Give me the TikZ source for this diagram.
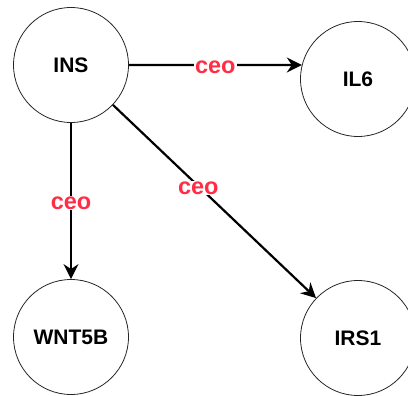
\documentclass[tikz,border=0pt]{standalone}
\usepackage{fontspec}
\setmainfont{Liberation Sans}
\usetikzlibrary{arrows.meta}
\definecolor{labelred}{RGB}{255,45,70}
\begin{document}
\begin{tikzpicture}[x=1pt,y=-1pt,
  gene/.style={circle,draw=black!85,line width=0.8pt,minimum size=115pt,inner sep=0pt,
    font=\fontsize{21}{24}\selectfont\bfseries},
  rel/.style={line width=2.2pt,-{Stealth[length=15pt,width=15pt,inset=5pt]}},
  lab/.style={fill=white,inner sep=1pt,yshift=-2pt,text=labelred,font=\fontsize{23.5}{26}\selectfont\bfseries}]
\useasboundingbox (0,0) rectangle (408,396);
\node[gene] (ins) at (71,65) {INS};
\node[gene] (il6) at (358,79) {IL6};
\node[gene] (wnt) at (71,337) {WNT5B};
\node[gene] (irs) at (358,338) {IRS1};
\draw[rel] (ins.east) -- node[lab,pos=0.5] {ceo} (il6.166);
\draw[rel] (ins) -- node[lab,pos=0.5] {ceo} (wnt);
\draw[rel] (ins) -- node[lab,pos=0.42] {ceo} (irs);
\end{tikzpicture}
\end{document}
